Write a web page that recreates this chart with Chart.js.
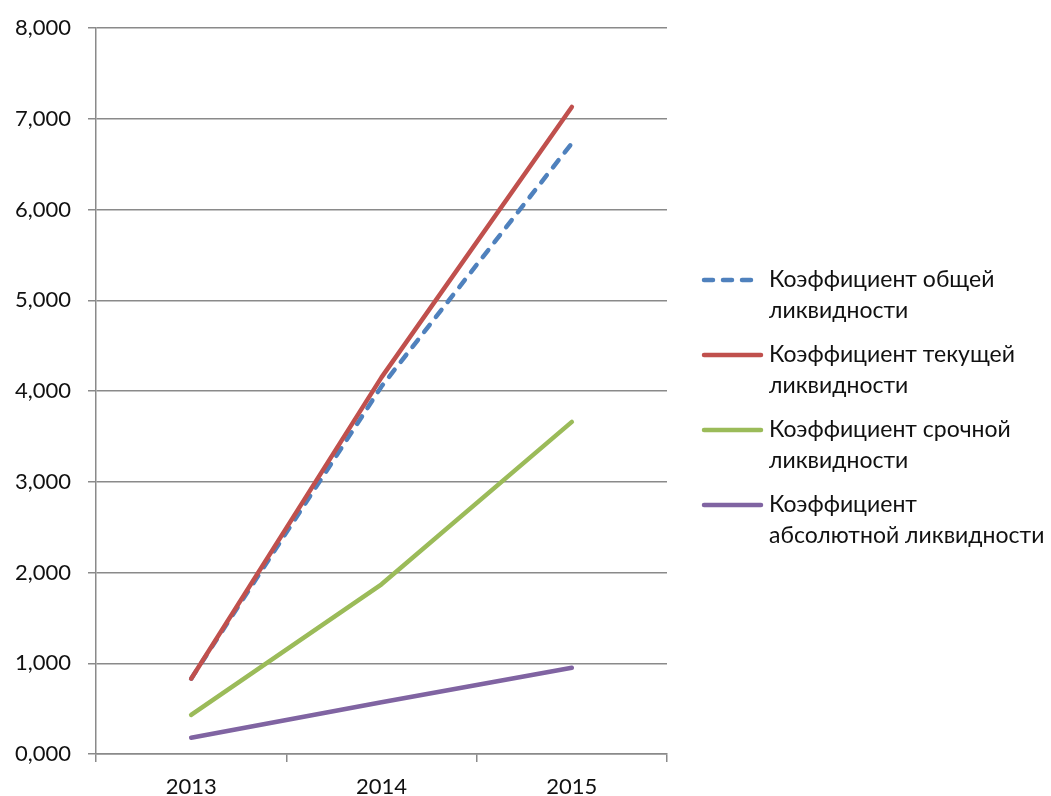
<!DOCTYPE html>
<html lang="ru">
<head>
    <meta charset="UTF-8">
    <title>Коэффициенты ликвидности</title>
    <script src="https://cdn.jsdelivr.net/npm/chart.js"></script>
    <style>
        html, body { margin: 0; padding: 0; background: #fff; }
    </style>
</head>
<body>
    <canvas id="liqChart" width="1051" height="796"></canvas>
    <script>
        // данные
        var years = ['2013', '2014', '2015'];
        var obshaya = [0.83, 4.05, 6.73];
        var tekushaya = [0.83, 4.15, 7.13];
        var srochnaya = [0.43, 1.87, 3.66];
        var absolutnaya = [0.18, 0.57, 0.95];
        var yTicks = [0, 1, 2, 3, 4, 5, 6, 7, 8];
        var legendLines = [
            ['Коэффициент общей', 'ликвидности'],
            ['Коэффициент текущей', 'ликвидности'],
            ['Коэффициент срочной', 'ликвидности'],
            ['Коэффициент', 'абсолютной ликвидности']
        ];

        var FONT = "Lato, 'Open Sans', sans-serif";
        var TEXT = '#111';
        var GRID = '#8a8a8a';

        // легенда справа, в две строки как в Excel
        var sideLegend = {
            id: 'sideLegend',
            afterDraw: function(chart) {
                var c = chart.ctx;
                c.save();
                c.font = '23px ' + FONT;
                c.textBaseline = 'middle';
                c.textAlign = 'left';
                chart.data.datasets.forEach(function(ds, i) {
                    var y = 280 + i * 75;
                    c.beginPath();
                    c.strokeStyle = ds.borderColor;
                    c.lineWidth = 4.5;
                    c.lineCap = 'round';
                    c.setLineDash(ds.borderDash || []);
                    c.moveTo(704, y);
                    c.lineTo(761, y);
                    c.stroke();
                    c.setLineDash([]);
                    c.fillStyle = TEXT;
                    legendLines[i].forEach(function(t, k) {
                        c.fillText(t, 769, y + k * 31);
                    });
                });
                c.restore();
            }
        };

        function makeSet(name, values, color, order, dash) {
            return {
                label: name,
                data: values,
                borderColor: color,
                backgroundColor: color,
                borderWidth: 4.5,
                borderCapStyle: 'round',
                borderJoinStyle: 'round',
                borderDash: dash || [],
                pointRadius: 0,
                pointHoverRadius: 0,
                tension: 0,
                fill: false,
                order: order
            };
        }

        var ctx = document.getElementById('liqChart').getContext('2d');
        var chart = new Chart(ctx, {
            type: 'line',
            data: {
                labels: years,
                datasets: [
                    makeSet(legendLines[0].join(' '), obshaya, '#4f81bd', 4, [9, 10]),
                    makeSet(legendLines[1].join(' '), tekushaya, '#c0504d', 3),
                    makeSet(legendLines[2].join(' '), srochnaya, '#9bbb59', 2),
                    makeSet(legendLines[3].join(' '), absolutnaya, '#8064a2', 1)
                ]
            },
            options: {
                responsive: false,
                animation: false,
                layout: { padding: { top: 28, right: 384, left: 0, bottom: 0 } },
                plugins: {
                    legend: { display: false },
                    tooltip: { enabled: false }
                },
                scales: {
                    x: {
                        offset: true,
                        grid: {
                            offset: true,
                            drawOnChartArea: false,
                            drawTicks: true,
                            tickLength: 8,
                            color: GRID,
                            lineWidth: 1.5
                        },
                        border: { color: GRID, width: 1.5 },
                        ticks: {
                            color: TEXT,
                            font: { family: FONT, size: 22 },
                            padding: 12,
                            maxRotation: 0
                        },
                        afterFit: function(s) { s.height = 42; }
                    },
                    y: {
                        min: 0,
                        max: 8,
                        afterBuildTicks: function(s) {
                            s.ticks = yTicks.map(function(v) { return { value: v }; });
                        },
                        grid: {
                            color: GRID,
                            lineWidth: 1.5,
                            tickLength: 8
                        },
                        border: { color: GRID, width: 1.5 },
                        ticks: {
                            color: TEXT,
                            font: { family: FONT, size: 22, lineHeight: 1 },
                            padding: 17,
                            callback: function(v) {
                                return Number(v).toFixed(3).replace('.', ',');
                            }
                        },
                        afterFit: function(s) { s.width = 96; }
                    }
                }
            },
            plugins: [sideLegend]
        });
    </script>
</body>
</html>
